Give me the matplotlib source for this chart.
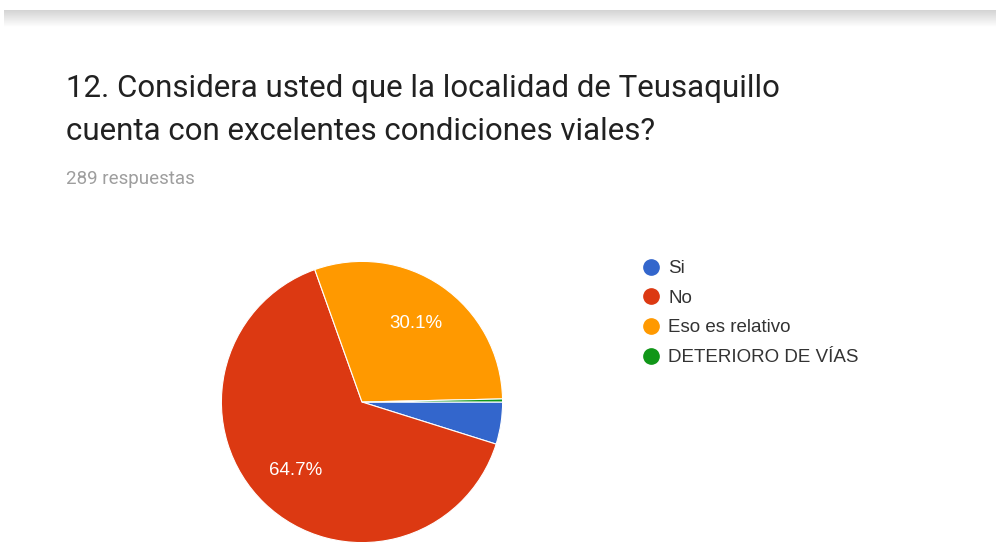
import matplotlib.pyplot as plt
from matplotlib.lines import Line2D
import numpy as np

# DATA #################################################################################################################

labels = ['Si', 'No', 'Eso es relativo', 'DETERIORO DE VÍAS']
counts = [14, 187, 87, 1]
colors = ['#3366cc', '#dc3912', '#ff9900', '#109618']
title_lines = ['12. Considera usted que la localidad de Teusaquillo',
               'cuenta con excelentes condiciones viales?']
subtitle = '289 respuestas'

########################################################################################################################

W, H = 996, 553
fig = plt.figure(figsize=(W / 100, H / 100), dpi=100)
fig.patch.set_facecolor('white')

# grey shadow band at the top
band = fig.add_axes([4 / W, 1 - 27 / H, 1 - 4 / W, 17 / H])
grad = np.linspace(0.83, 1.0, 50).reshape(-1, 1)
band.imshow(np.dstack([grad, grad, grad]), aspect='auto', extent=[0, 1, 1, 0])
band.axis('off')

for line, base in zip(title_lines, [97, 140]):
    fig.text(66 / W, 1 - base / H, line, fontsize=22.5, family='Roboto', color='#212121',
             va='baseline', ha='left')
fig.text(66 / W, 1 - 184 / H, subtitle, fontsize=13.5, family='Roboto', color='#9e9e9e',
         va='baseline', ha='left')

cx, cy, r = 362, 402, 142
ax = fig.add_axes([(cx - r) / W, (H - cy - r) / H, 2 * r / W, 2 * r / H])


def pct(p):
    return f'{p:.1f}%' if p >= 5 else ''


wedges, texts, autotexts = ax.pie(counts, colors=colors, startangle=0, counterclock=False,
                                  autopct=pct, pctdistance=0.68, radius=1,
                                  wedgeprops=dict(edgecolor='white', linewidth=0.8))
for t in autotexts:
    t.set_color('white')
    t.set_fontsize(13.5)
    t.set_family('Liberation Sans')
ax.set_xlim(-1.01, 1.01)
ax.set_ylim(-1.01, 1.01)
ax.axis('off')

handles = [Line2D([], [], marker='o', linestyle='', markersize=11, markerfacecolor=c, markeredgecolor=c)
           for c in colors]
fig.legend(handles, labels, loc='upper left', bbox_to_anchor=(642 / W, 1 - 260 / H), frameon=False,
           handletextpad=0.4, labelspacing=0.67, borderaxespad=0, borderpad=0, handlelength=1.0,
           prop={'family': 'Liberation Sans', 'size': 13.5}, labelcolor='#333333')

fig.savefig('out.png', dpi=100)
